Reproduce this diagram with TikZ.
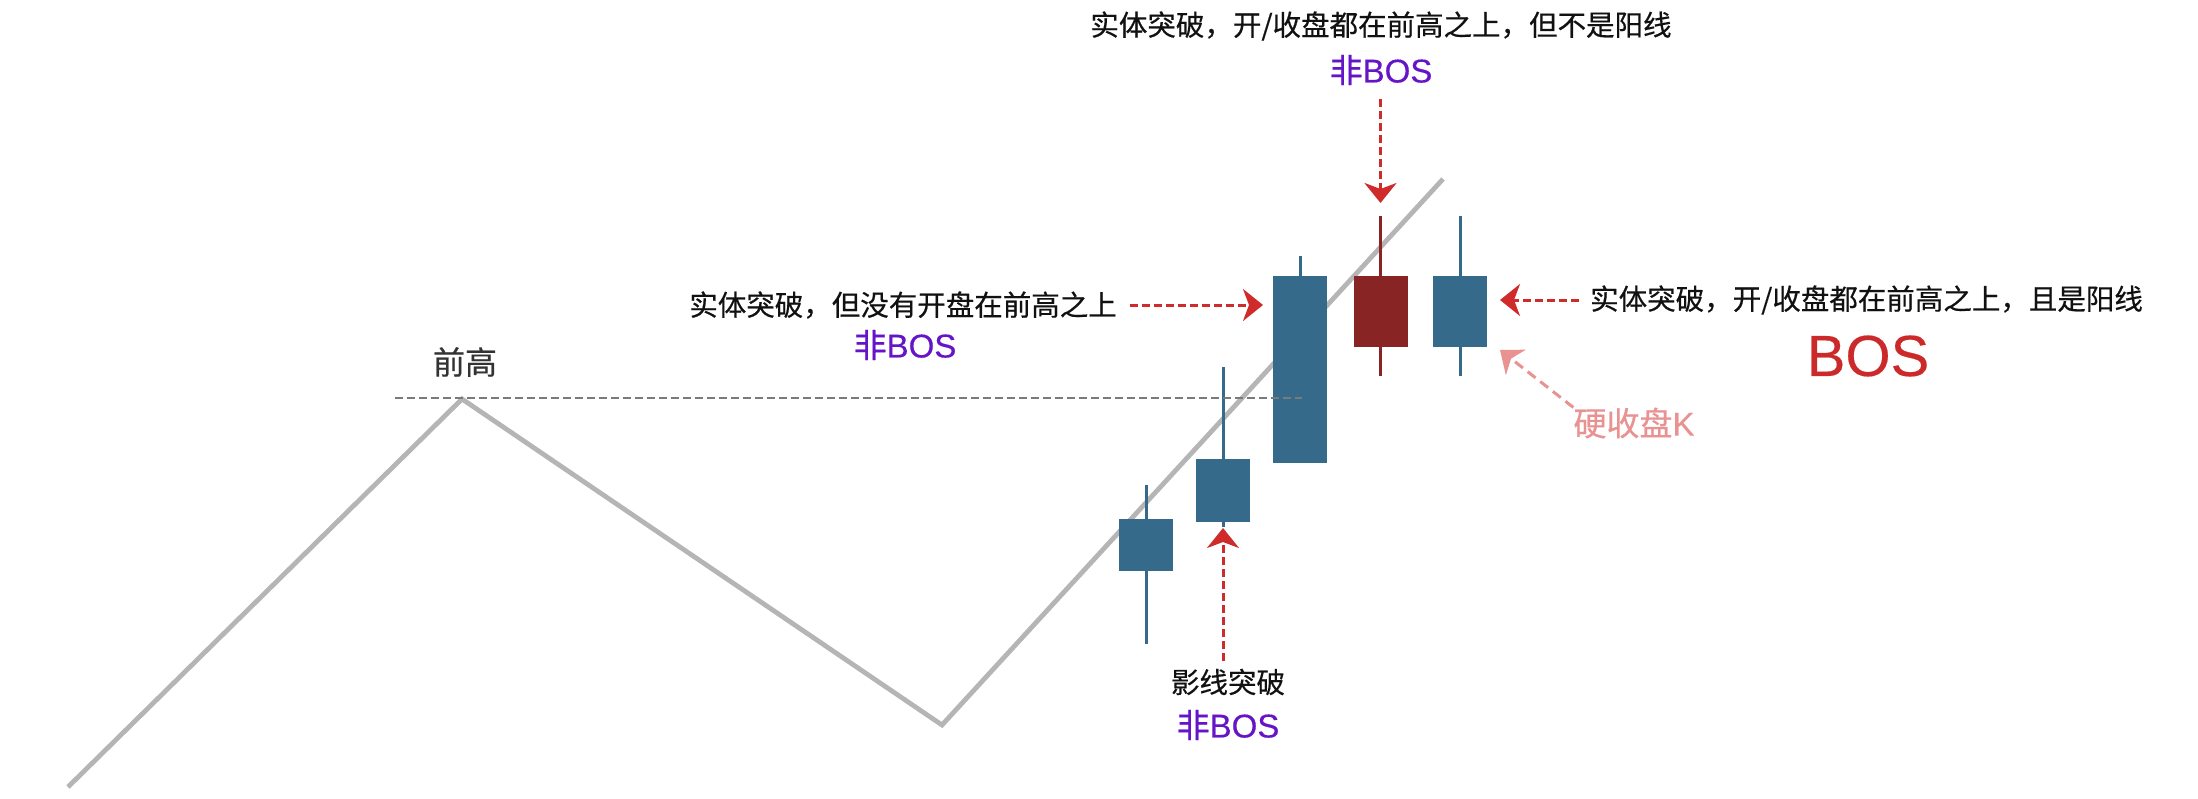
\documentclass[tikz,border=0pt]{standalone}
\usepackage{fontspec}
\setmainfont{Noto Sans CJK SC}[FakeBold=0.5]
\newfontfamily\latfont{Liberation Sans}[FakeBold=0.3]
\usetikzlibrary{arrows.meta}
\definecolor{candleblue}{HTML}{356A8A}
\definecolor{candlered}{HTML}{892424}
\definecolor{arrowred}{HTML}{D02B2B}
\definecolor{pinkc}{HTML}{E89292}
\definecolor{purp}{HTML}{6514C8}
\definecolor{bosred}{HTML}{CC2A2A}
\definecolor{zig}{HTML}{B5B5B5}
\definecolor{hdash}{HTML}{7A7A7A}
\definecolor{txt}{HTML}{111111}
\begin{document}
\begin{tikzpicture}[x=1pt,y=-1pt,
  bodyb/.style={fill=candleblue, draw=none, inner sep=0pt, outer sep=0pt, minimum width=54pt},
  bodyr/.style={bodyb, fill=candlered},
  wickb/.style={draw=candleblue, line width=3pt},
  wickr/.style={draw=candlered, line width=3pt},
  note/.style={font=\fontsize{28.5}{30}\selectfont, text=txt, inner sep=0pt},
  nonbos/.style={font=\fontsize{33}{36}\selectfont, text=purp, inner sep=0pt},
  redarrow/.style={draw=arrowred, line width=3pt, dash pattern=on 8pt off 4pt, -{Stealth[length=20pt,width=32pt,inset=6pt]}},
  pinkarrow/.style={draw=pinkc, line width=3pt, dash pattern=on 10pt off 6pt, -{Stealth[length=20pt,width=32pt,inset=6pt]}},
  zigline/.style={draw=zig, line width=4.8pt},
  hiline/.style={draw=hdash, line width=2.2pt, dash pattern=on 8pt off 4pt}
]
\useasboundingbox (0,0) rectangle (2198,798);
% price path
\coordinate (z0) at (68,787);
\coordinate (z1) at (462,399);
\coordinate (z2) at (942,725);
\coordinate (z3) at (1443,179);
\draw[zigline] (z0) -- (z1) -- (z2) -- (z3);
% candles
\node[bodyb, minimum height=52pt] (c1) at (1146,545) {};
\node[bodyb, minimum height=63pt] (c2) at (1223,490.5) {};
\node[bodyb, minimum height=187pt] (c3) at (1300,369.5) {};
\node[bodyr, minimum height=71pt] (c4) at (1380.5,311.5) {};
\node[bodyb, minimum height=71pt] (c5) at (1460,311.5) {};
\draw[wickb] (c1.north) -- ++(0,-34);
\draw[wickb] (c1.south) -- ++(0,73);
\draw[wickb] (c2.north) -- ++(0,-92);
\draw[wickb] (c2.south) -- ++(0,5);
\draw[wickb] (c3.north) -- ++(0,-20);
\draw[wickr] (c4.north) -- ++(0,-60);
\draw[wickr] (c4.south) -- ++(0,29);
\draw[wickb] (c5.north) -- ++(0,-60);
\draw[wickb] (c5.south) -- ++(0,29);
% previous high line
\coordinate (h0) at (395,398);
\coordinate (h1) at (1302,398);
\draw[hiline] (h0) -- (h1);
\node[font=\fontsize{32}{34}\selectfont, text=black!80, inner sep=0pt] (ph) at (465,362) {前高};
% labels
\node[note] (t1) at (1381,26) {实体突破，开/收盘都在前高之上，但不是阳线};
\node[nonbos] (n1) at (1381,70) {非{\latfont BOS}};
\node[note, anchor=east] (t2) at (1117,305) {实体突破，但没有开盘在前高之上};
\node[nonbos] (n2) at (905,345) {非{\latfont BOS}};
\node[note, anchor=west] (t3) at (1590,300) {实体突破，开/收盘都在前高之上，且是阳线};
\node[font=\fontsize{58}{60}\selectfont\latfont, text=bosred, inner sep=0pt] (bos) at (1868,356) {BOS};
\node[note] (t4) at (1228,682) {影线突破};
\node[nonbos] (n3) at (1228,725) {非{\latfont BOS}};
\node[font=\fontsize{33}{36}\selectfont, text=pinkc, inner sep=0pt] (t5) at (1634,423) {硬收盘{\latfont K}};
% arrows
\draw[redarrow, shorten <=14pt, shorten >=73pt] (c4.north |- n1.south) -- (c4.north);
\draw[redarrow, shorten <=13pt, shorten >=10pt] (t2.east) -- (t2.east -| c3.west);
\draw[redarrow, shorten <=11pt, shorten >=13pt] (t3.west) -- (t3.west -| c5.east);
\draw[redarrow, shorten <=8pt, shorten >=6pt] (c2.south |- t4.north) -- (c2.south);
\draw[pinkarrow] (t5.north west) -- ([xshift=13pt,yshift=-3pt]c5.south east);
\end{tikzpicture}
\end{document}
